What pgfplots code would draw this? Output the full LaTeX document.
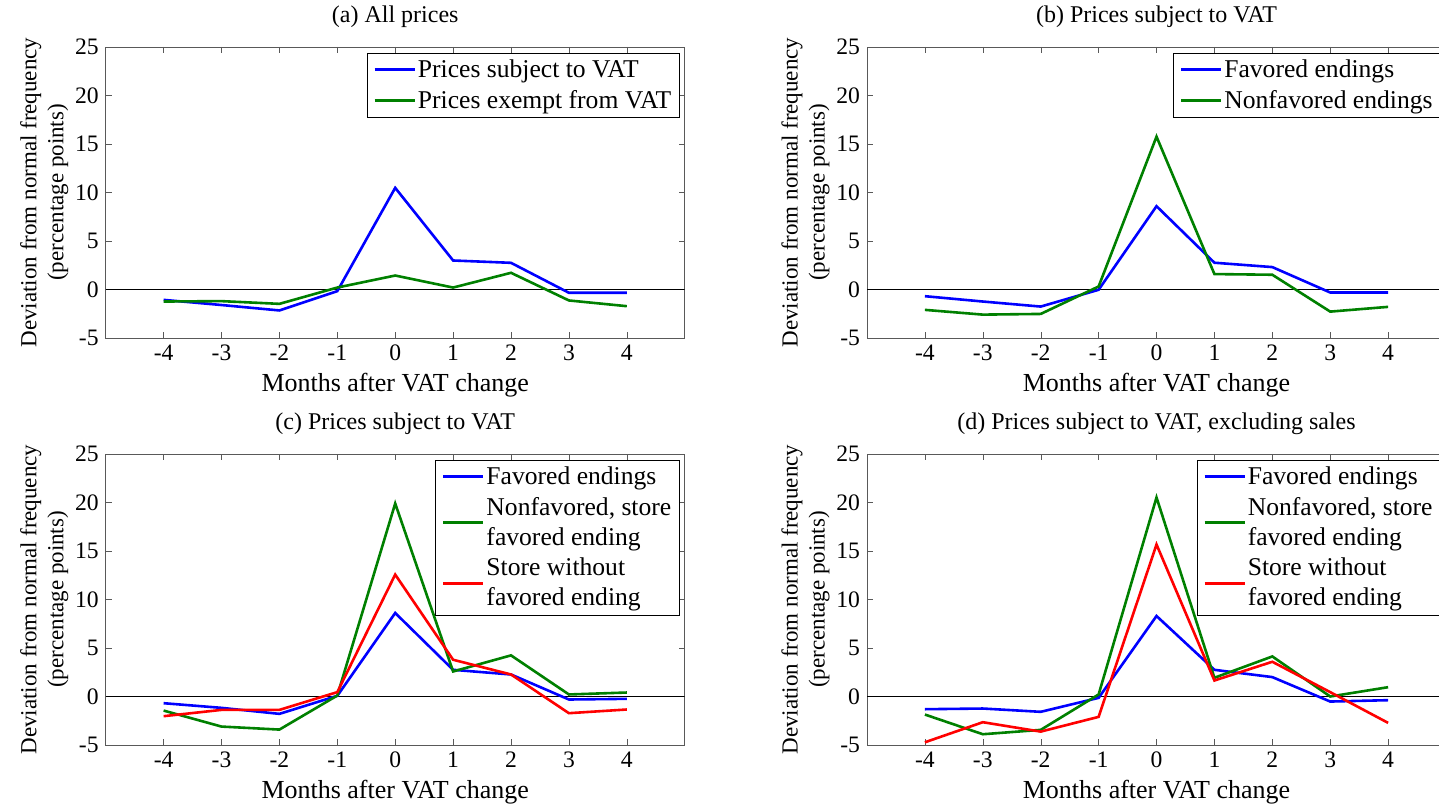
\documentclass[border=0pt]{standalone}
\usepackage{pgfplots}
\pgfplotsset{compat=1.18}
\usepackage{fontspec}
\setmainfont{Liberation Serif}
\definecolor{mblue}{rgb}{0,0,1}
\definecolor{mgreen}{rgb}{0,0.5,0}
\definecolor{mred}{rgb}{1,0,0}

\pgfplotsset{
  vatpanel/.style={
    scale only axis,
    width=289.5pt, height=145.5pt,
    xmin=-5, xmax=5, ymin=-5, ymax=25,
    xtick={-4,-3,...,4}, ytick={-5,0,...,25},
    tick align=inside, major tick length=3pt,
    axis line style={black!65}, tick style={black!65},
    /pgf/number format/assume math mode=true,
    ticklabel style={font=\fontsize{11.8}{13}\selectfont},
    xlabel style={font=\fontsize{13}{14}\selectfont, yshift=1pt},
    ylabel style={font=\fontsize{11.5}{13.5}\selectfont, align=center},
    ylabel shift=-3.5pt,
    title style={font=\fontsize{12}{14}\selectfont},
    xlabel={Months after VAT change},
    ylabel={Deviation from normal frequency\\(percentage points)},
    legend cell align=left,
    legend style={font=\fontsize{12.8}{15}\selectfont,
      at={(rel axis cs:1,1)}, anchor=north east,
      xshift=-2.5pt, yshift=-3pt,
      draw=black, row sep=3pt,
      nodes={inner sep=1pt},
      cells={align=left}},
    legend image code/.code={\draw[#1] (0pt,0pt) -- (20pt,0pt);},
    every axis plot/.append style={line width=1.3pt},
  },
  zeroline/.style={black, line width=0.5pt, forget plot},
}

\begin{document}
\begin{tikzpicture}

% (a)
\begin{axis}[vatpanel, at={(52.85pt,232.5pt)}, anchor=south west,
  title={(a) All prices}]
\addplot[zeroline] coordinates {(-5,0) (5,0)};
\addplot[mblue] coordinates {
  (-4,-1.07) (-3,-1.6) (-2,-2.16) (-1,-0.17) (0,10.48)
  (1,2.99) (2,2.75) (3,-0.34) (4,-0.34)};
\addlegendentry{Prices subject to VAT}
\addplot[mgreen] coordinates {
  (-4,-1.24) (-3,-1.2) (-2,-1.48) (-1,0.2) (0,1.44)
  (1,0.2) (2,1.72) (3,-1.13) (4,-1.72)};
\addlegendentry{Prices exempt from VAT}
\end{axis}

% (b)
\begin{axis}[vatpanel, at={(433.5pt,232.5pt)}, anchor=south west,
  title={(b) Prices subject to VAT}]
\addplot[zeroline] coordinates {(-5,0) (5,0)};
\addplot[mblue] coordinates {
  (-4,-0.69) (-3,-1.24) (-2,-1.76) (-1,-0.03) (0,8.59)
  (1,2.76) (2,2.31) (3,-0.31) (4,-0.31)};
\addlegendentry{Favored endings}
\addplot[mgreen] coordinates {
  (-4,-2.1) (-3,-2.59) (-2,-2.52) (-1,0.31) (0,15.76)
  (1,1.59) (2,1.52) (3,-2.28) (4,-1.79)};
\addlegendentry{Nonfavored endings}
\end{axis}

% (c)
\begin{axis}[vatpanel, at={(52.85pt,29pt)}, anchor=south west,
  title={(c) Prices subject to VAT}]
\addplot[zeroline] coordinates {(-5,0) (5,0)};
\addplot[mblue] coordinates {
  (-4,-0.69) (-3,-1.17) (-2,-1.79) (-1,0.07) (0,8.61)
  (1,2.75) (2,2.27) (3,-0.31) (4,-0.24)};
\addlegendentry{Favored endings}
\addplot[mgreen] coordinates {
  (-4,-1.45) (-3,-3.1) (-2,-3.41) (-1,0.1) (0,19.9)
  (1,2.58) (2,4.24) (3,0.21) (4,0.41)};
\addlegendentry{Nonfavored, store\\favored ending}
\addplot[mred] coordinates {
  (-4,-2.03) (-3,-1.38) (-2,-1.38) (-1,0.45) (0,12.57)
  (1,3.79) (2,2.27) (3,-1.72) (4,-1.34)};
\addlegendentry{Store without\\favored ending}
\end{axis}

% (d)
\begin{axis}[vatpanel, at={(433.5pt,29pt)}, anchor=south west,
  title={(d) Prices subject to VAT, excluding sales}]
\addplot[zeroline] coordinates {(-5,0) (5,0)};
\addplot[mblue] coordinates {
  (-4,-1.31) (-3,-1.24) (-2,-1.58) (-1,-0.14) (0,8.3)
  (1,2.75) (2,2.0) (3,-0.52) (4,-0.38)};
\addlegendentry{Favored endings}
\addplot[mgreen] coordinates {
  (-4,-1.86) (-3,-3.89) (-2,-3.44) (-1,0.21) (0,20.52)
  (1,1.93) (2,4.13) (3,0.0) (4,0.96)};
\addlegendentry{Nonfavored, store\\favored ending}
\addplot[mred] coordinates {
  (-4,-4.72) (-3,-2.65) (-2,-3.62) (-1,-2.1) (0,15.67)
  (1,1.65) (2,3.58) (3,0.45) (4,-2.72)};
\addlegendentry{Store without\\favored ending}
\end{axis}

\pgfresetboundingbox
\useasboundingbox (0,0) rectangle (719.5pt,401.5pt);
\end{tikzpicture}
\end{document}
